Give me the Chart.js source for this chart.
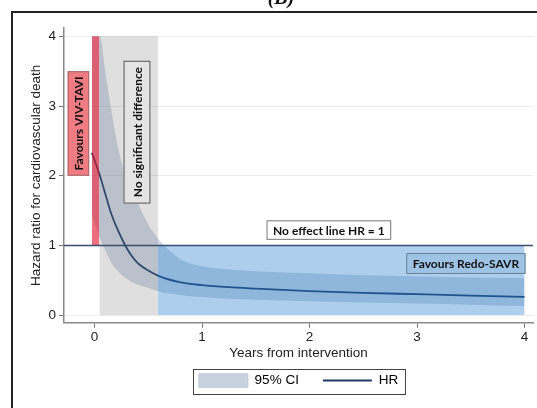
<!DOCTYPE html>
<html lang="en">
<head>
<meta charset="UTF-8">
<title>Hazard ratio for cardiovascular death</title>
<script src="https://cdn.jsdelivr.net/npm/chart.js"></script>
<style>
  html, body { margin: 0; padding: 0; background: #fff; }
</style>
</head>
<body>
<canvas id="hrChart" width="537" height="408"></canvas>
<script>
// years from intervention, fitted hazard ratio and its 95% CI
const years   = [-0.025, 0.05, 0.1, 0.15, 0.2, 0.25, 0.3, 0.35, 0.4, 0.5, 0.6, 0.8, 1.0, 1.25, 1.5, 2.0, 2.5, 3.0, 3.5, 4.0];
const hr      = [2.33, 2.0, 1.74, 1.48, 1.28, 1.11, 0.96, 0.84, 0.75, 0.64, 0.56, 0.47, 0.43, 0.40, 0.38, 0.345, 0.32, 0.30, 0.28, 0.26];
const ciUpper = [4.0, 4.0, 3.5, 3.0, 2.55, 2.2, 1.98, 1.8, 1.62, 1.3, 1.08, 0.80, 0.70, 0.655, 0.63, 0.60, 0.57, 0.555, 0.54, 0.53];
const ciLower = [1.45, 1.1, 0.93, 0.77, 0.66, 0.58, 0.52, 0.47, 0.44, 0.39, 0.34, 0.29, 0.26, 0.235, 0.22, 0.20, 0.18, 0.165, 0.15, 0.13];

// shaded zones: [from year, to year, from HR, to HR]
const vivTaviZone  = [-0.025, 0.045, 1, 4];
const noDiffZone   = [0.045, 0.59, 0, 4];
const redoSavrZone = [0.59, 4.0, 0, 1];
const noEffectHR = 1;

const xTicks = [0, 1, 2, 3, 4];
const yTicks = [0, 1, 2, 3, 4];
const xRange = [-0.284, 4.079];
const yRange = [-0.11, 4.12];

const navy = '#1d3a68';
const axisFont = { family: 'Liberation Sans', size: 13.5 };
const labelFont = 'bold 12px Lato';

const pts = (xs, ys) => xs.map((x, i) => ({ x: x, y: ys[i] }));
const zone = z => [{ x: z[0], y: z[3] }, { x: z[1], y: z[3] }];

// boxed notes, placed in data units
const notes = [
  { text: 'Favours VIV-TAVI', x: [-0.25, -0.05], y: [2.0, 3.5], vertical: true, fill: '#ef7c82', stroke: '#a0686c' },
  { text: 'No significant difference', x: [0.27, 0.52], y: [1.6, 3.65], vertical: true, fill: '#e4e4e4', stroke: '#555' },
  { text: 'No effect line HR = 1', x: [1.6, 2.76], y: [1.08, 1.36], fill: '#ffffff', stroke: '#777' },
  { text: 'Favours Redo-SAVR', x: [2.9, 4.01], y: [0.59, 0.89], fill: '#9fc3e4', stroke: '#6a8296' }
];

const frame = {
  id: 'frame',
  beforeDraw(chart) {
    const ctx = chart.ctx;
    ctx.save();
    ctx.fillStyle = '#fff';
    ctx.fillRect(0, 0, chart.width, chart.height);
    ctx.strokeStyle = '#222';
    ctx.lineWidth = 2;
    ctx.strokeRect(12, 12, chart.width + 20, chart.height + 20);
    ctx.fillStyle = '#111';
    ctx.font = 'bold italic 20px "Liberation Serif"';
    ctx.textAlign = 'center';
    ctx.textBaseline = 'alphabetic';
    ctx.fillText('(B)', 281, 4);
    ctx.restore();
  },
  afterDatasetsDraw(chart) {
    const ctx = chart.ctx, xs = chart.scales.x, ys = chart.scales.y;
    ctx.save();
    notes.forEach(n => {
      const l = xs.getPixelForValue(n.x[0]), r = xs.getPixelForValue(n.x[1]);
      const t = ys.getPixelForValue(n.y[1]), b = ys.getPixelForValue(n.y[0]);
      ctx.fillStyle = n.fill;
      ctx.fillRect(l, t, r - l, b - t);
      ctx.strokeStyle = n.stroke;
      ctx.lineWidth = 1;
      ctx.strokeRect(l + 0.5, t + 0.5, r - l - 1, b - t - 1);
      ctx.fillStyle = '#111';
      ctx.font = labelFont;
      ctx.textAlign = 'center';
      ctx.textBaseline = 'middle';
      ctx.save();
      ctx.translate((l + r) / 2, (t + b) / 2);
      if (n.vertical) ctx.rotate(-Math.PI / 2);
      ctx.fillText(n.text, 0, 1);
      ctx.restore();
    });
    ctx.restore();
  },
  afterDraw(chart) {
    const boxes = chart.legend.legendHitBoxes;
    if (!boxes || !boxes.length) return;
    const l = Math.min(...boxes.map(b => b.left)) - 6;
    const r = Math.max(...boxes.map(b => b.left + b.width)) + 7;
    const t = Math.min(...boxes.map(b => b.top)) - 5;
    const b = Math.max(...boxes.map(b => b.top + b.height)) + 6;
    const ctx = chart.ctx;
    ctx.save();
    ctx.strokeStyle = '#444';
    ctx.lineWidth = 1;
    ctx.strokeRect(Math.round(l) + 0.5, Math.round(t) + 0.5, Math.round(r - l), Math.round(b - t));
    ctx.restore();
  }
};

const plain = { pointRadius: 0, pointHoverRadius: 0, borderWidth: 0 };

new Chart(document.getElementById('hrChart'), {
  type: 'line',
  data: {
    datasets: [
      Object.assign({ label: 'ci-upper', data: pts(years, ciUpper), fill: '+1',
        backgroundColor: 'rgba(70,105,150,0.26)', borderColor: 'rgba(0,0,0,0)',
        cubicInterpolationMode: 'monotone', order: 6 }, plain),
      Object.assign({ label: 'ci-lower', data: pts(years, ciLower), fill: false,
        borderColor: 'rgba(0,0,0,0)', cubicInterpolationMode: 'monotone', order: 6 }, plain),
      { label: 'HR', data: pts(years, hr), borderColor: navy, borderWidth: 1.8,
        pointRadius: 0, fill: false, cubicInterpolationMode: 'monotone', order: 5 },
      Object.assign({ label: 'viv-tavi', data: zone(vivTaviZone), fill: { value: vivTaviZone[2] },
        backgroundColor: 'rgba(225,25,45,0.62)', order: 3 }, plain),
      Object.assign({ label: 'no-diff', data: zone(noDiffZone), fill: { value: noDiffZone[2] },
        backgroundColor: 'rgba(120,120,120,0.24)', order: 3 }, plain),
      Object.assign({ label: 'redo-savr', data: zone(redoSavrZone), fill: { value: redoSavrZone[2] },
        backgroundColor: 'rgba(40,125,205,0.38)', order: 3 }, plain),
      { label: 'no-effect', data: [{ x: xRange[0], y: noEffectHR }, { x: xRange[1], y: noEffectHR }],
        borderColor: '#3b4e6e', borderWidth: 1.5, pointRadius: 0, fill: false, order: 1 }
    ]
  },
  options: {
    responsive: false,
    animation: false,
    devicePixelRatio: 1,
    layout: { padding: { left: 28, right: 4, top: 28, bottom: 10.75 } },
    scales: {
      x: {
        type: 'linear', min: xRange[0], max: xRange[1],
        afterBuildTicks: s => { s.ticks = xTicks.map(v => ({ value: v })); },
        afterFit: s => { s.height = 27; },
        grid: { drawOnChartArea: false, tickLength: 5, color: '#777', tickColor: '#777' },
        border: { color: '#8a8a8a', width: 1.5 },
        ticks: { color: '#222', font: axisFont, padding: 1, maxRotation: 0, autoSkip: false },
        title: { display: true, text: 'Years from intervention', color: '#222', font: axisFont,
          padding: { top: 0, bottom: -11.35 } }
      },
      y: {
        type: 'linear', min: yRange[0], max: yRange[1],
        afterBuildTicks: s => { s.ticks = yTicks.map(v => ({ value: v })); },
        afterFit: s => { s.width = 36; },
        grid: { color: '#ececec', tickColor: '#777', tickLength: 5 },
        border: { color: '#8a8a8a', width: 1.5 },
        ticks: { color: '#222', font: axisFont, padding: 3 },
        title: { display: true, text: 'Hazard ratio for cardiovascular death', color: '#222', font: axisFont,
          padding: { top: 0, bottom: 0 } }
      }
    },
    plugins: {
      tooltip: { enabled: false },
      legend: {
        position: 'bottom',
        fullSize: false,
        onClick: null,
        labels: {
          usePointStyle: true,
          pointStyleWidth: 49,
          boxHeight: 14,
          padding: 24,
          color: '#222',
          font: axisFont,
          generateLabels: () => [
            { text: '95% CI', pointStyle: 'rect', fillStyle: '#c8d2de', strokeStyle: '#bcc8d6', lineWidth: 1, hidden: false, datasetIndex: 0 },
            { text: 'HR', pointStyle: 'line', fillStyle: navy, strokeStyle: navy, lineWidth: 2, hidden: false, datasetIndex: 2 }
          ]
        }
      }
    }
  },
  plugins: [frame]
});
</script>
</body>
</html>
